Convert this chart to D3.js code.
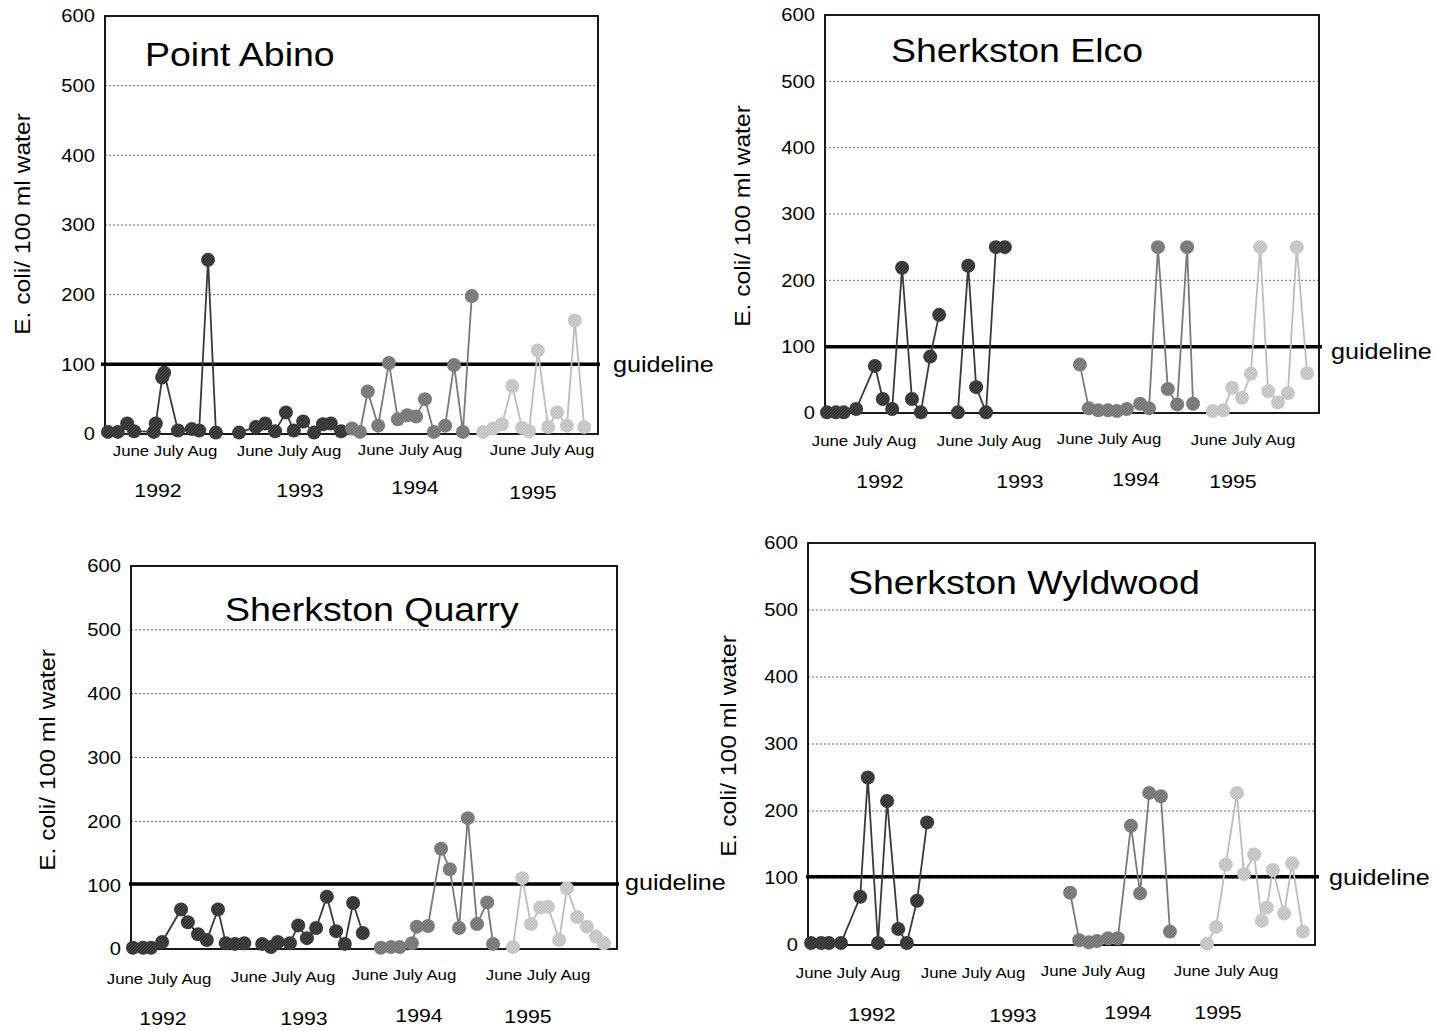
<!DOCTYPE html>
<html><head><meta charset="utf-8">
<script src="https://cdn.jsdelivr.net/npm/d3@7"></script>
<style>body{margin:0;background:#fff} svg{display:block}</style>
</head><body><svg id="c" width="1440" height="1031"></svg>
<script>
// ---------- data ----------
const yTicks = [0, 100, 200, 300, 400, 500, 600];
const years = ["1992", "1993", "1994", "1995"];
const monthLabel = "June July Aug";
const guideLabel = "guideline";
const yTitle = "E. coli/ 100 ml water";
const siteNames = ["Point Abino", "Sherkston Elco", "Sherkston Quarry", "Sherkston Wyldwood"];
const guidelineValues = [100, 100, 102, 102];

// [sampling position along axis (0-100), E. coli / 100 ml]
const abino1992 = [[0.6,3],[2.6,3],[4.5,15],[5.9,4],[9.9,3],[10.3,15],[11.6,81],[12.0,88],[14.8,5],[17.6,7],[19.1,5],[20.9,250],[22.5,2]];
const abino1993 = [[27.2,2],[30.6,10],[32.5,15],[34.5,4],[36.7,31],[38.3,5],[40.2,18],[42.4,2],[44.2,14],[45.8,15],[47.9,4]];
const abino1994 = [[50.1,8],[51.7,3],[53.3,61],[55.4,12],[57.6,102],[59.4,21],[61.3,27],[63.1,25],[64.9,50],[66.7,3],[69.0,12],[70.8,99],[72.6,3],[74.4,198]];
const abino1995 = [[76.7,3],[78.7,8],[80.5,14],[82.6,69],[84.6,9],[86.0,4],[87.8,120],[89.9,10],[91.7,31],[93.7,12],[95.3,163],[97.2,10]];

const elco1992 = [[0.4,1],[2.2,1],[3.8,1],[6.3,6],[10.1,71],[11.7,21],[13.6,6],[15.6,219],[17.6,21],[19.4,1],[21.3,85],[23.1,148]];
const elco1993 = [[26.9,1],[29.0,222],[30.6,39],[32.6,1],[34.6,250],[36.4,250]];
const elco1994 = [[51.6,73],[53.4,7],[55.3,4],[57.3,4],[59.1,3],[61.1,6],[63.8,14],[65.6,7],[67.4,250],[69.4,36],[71.3,13],[73.3,250],[74.5,14]];
const elco1995 = [[78.5,3],[80.6,4],[82.4,38],[84.4,23],[86.2,59],[88.1,250],[89.7,33],[91.7,16],[93.7,30],[95.5,250],[97.6,60]];

const quarry1992 = [[0.4,2],[2.5,2],[4.1,2],[6.4,11],[10.3,62],[11.7,42],[13.8,23],[15.6,14],[17.9,62],[19.5,9],[21.4,8],[23.3,9]];
const quarry1993 = [[27.0,8],[28.8,3],[30.2,11],[32.7,9],[34.4,37],[36.2,17],[38.1,33],[40.3,82],[42.2,28],[44.0,8],[45.7,72],[47.7,25]];
const quarry1994 = [[51.4,2],[53.5,3],[55.3,3],[57.8,9],[58.8,35],[61.1,36],[63.8,157],[65.6,125],[67.5,33],[69.3,205],[71.2,39],[73.3,73],[74.5,8]];
const quarry1995 = [[78.6,3],[80.5,111],[82.3,39],[84.2,65],[85.8,66],[88.1,14],[89.7,95],[91.8,50],[93.8,35],[95.7,19],[97.3,9]];

const wyld1992 = [[0.6,3],[2.6,3],[4.1,3],[6.5,3],[10.3,72],[11.8,250],[13.8,3],[15.6,215],[17.8,24],[19.5,3],[21.5,66],[23.5,183]];
const wyld1993 = [];
const wyld1994 = [[51.7,78],[53.5,7],[55.4,4],[57.0,6],[59.2,10],[61.1,10],[63.7,178],[65.5,77],[67.3,227],[69.6,222],[71.4,20]];
const wyld1995 = [[78.7,2],[80.5,27],[82.4,120],[84.6,227],[86.0,106],[88.0,135],[89.5,36],[90.5,56],[91.7,112],[93.9,47],[95.5,122],[97.6,20]];

const panelSeries = [
  [abino1992, abino1993, abino1994, abino1995],
  [elco1992, elco1993, elco1994, elco1995],
  [quarry1992, quarry1993, quarry1994, quarry1995],
  [wyld1992, wyld1993, wyld1994, wyld1995]
];

// ---------- layout / style ----------
const layouts = [
  {frame:[105,16,598,434], title:[145,65], months:[[165,451],[289,451],[410,450],[542,450]],
   yrs:[[158,490],[300,490],[415,487],[533,492]], guide:[613,364], ytitle:[22,224], gl:[101,600]},
  {frame:[825,15,1319,413], title:[891,61], months:[[864,441],[989,441],[1109,439],[1243,440]],
   yrs:[[880,481],[1020,481],[1136,479],[1233,481]], guide:[1331,351], ytitle:[742,216], gl:[824,1322]},
  {frame:[131,566,617,949], title:[225,620], months:[[159,979],[283,977],[404,975],[538,975]],
   yrs:[[163,1018],[304,1018],[419,1015],[528,1016]], guide:[625,882], ytitle:[47,760], gl:[129,619]},
  {frame:[808,543,1315,945], title:[848,593], months:[[848,973],[973,973],[1093,971],[1226,971]],
   yrs:[[872,1014],[1013,1015],[1128,1012],[1218,1012]], guide:[1329,877], ytitle:[728,746], gl:[806,1319]}
];
const seriesStyle = [
  {fill:"url(#hDark)", line:"#3a3a3a"},
  {fill:"url(#hDark)", line:"#3a3a3a"},
  {fill:"url(#hMid)", line:"#7a7a7a"},
  {fill:"url(#hLight)", line:"#bdbdbd"}
];
const FONT = "'Liberation Sans', Arial, Helvetica, sans-serif";
const SX = 1.12;

const svg = d3.select("#c");
const defs = svg.append("defs");
function hatch(id, base, stripe) {
  const p = defs.append("pattern").attr("id", id).attr("patternUnits", "userSpaceOnUse")
    .attr("width", 3).attr("height", 3);
  p.append("rect").attr("width", 3).attr("height", 3).attr("fill", base);
  p.append("path").attr("d", "M-1,1 L1,-1 M0,3 L3,0 M2,4 L4,2").attr("stroke", stripe).attr("stroke-width", 0.7);
}
hatch("hDark", "#333", "#555");
hatch("hMid", "#767676", "#8e8e8e");
hatch("hLight", "#c2c2c2", "#d8d8d8");

function txt(g, x, y, s, size, anchor, opts = {}) {
  return g.append("text")
    .attr("transform", `translate(${x},${y})` + (opts.rotate ? " rotate(-90)" : "") + ` scale(${SX},1)`)
    .attr("text-anchor", anchor).attr("dy", "0.36em")
    .attr("font-family", FONT).attr("font-size", size).attr("fill", "#000")
    .text(s);
}

layouts.forEach((L, i) => {
  const [x0, y0, x1, y1] = L.frame;
  const g = svg.append("g");
  const x = d3.scaleLinear().domain([0, 100]).range([x0, x1]);
  const y = d3.scaleLinear().domain([0, 600]).range([y1, y0]);

  // gridlines
  g.selectAll("line.grid").data(yTicks.filter(v => v > 0 && v < 600)).join("line")
    .attr("x1", x0).attr("x2", x1).attr("y1", d => y(d)).attr("y2", d => y(d))
    .attr("stroke", "#444").attr("stroke-width", 0.8).attr("stroke-dasharray", "2,2");

  // frame
  g.append("rect").attr("x", x0).attr("y", y0).attr("width", x1 - x0).attr("height", y1 - y0)
    .attr("fill", "none").attr("stroke", "#000").attr("stroke-width", 1.8);

  // y tick labels
  yTicks.forEach(v => txt(g, x0 - 10, y(v), String(v), 18, "end"));

  // guideline
  g.append("line").attr("x1", L.gl[0]).attr("x2", L.gl[1])
    .attr("y1", y(guidelineValues[i])).attr("y2", y(guidelineValues[i]))
    .attr("stroke", "#000").attr("stroke-width", 3.5);
  txt(g, L.guide[0], L.guide[1], guideLabel, 22.5, "start");

  // series
  const line = d3.line().x(d => x(d[0])).y(d => y(d[1]));
  panelSeries[i].forEach((data, k) => {
    if (!data.length) return;
    g.append("path").datum(data).attr("d", line).attr("fill", "none")
      .attr("stroke", seriesStyle[k].line).attr("stroke-width", 1.8);
  });
  panelSeries[i].forEach((data, k) => {
    g.selectAll(null).data(data).join("circle")
      .attr("cx", d => x(d[0])).attr("cy", d => y(d[1])).attr("r", 7)
      .attr("fill", seriesStyle[k].fill);
  });

  // labels
  txt(g, L.title[0], L.title[1] - 11, siteNames[i], 33.5, "start");
  L.months.forEach(m => txt(g, m[0], m[1], monthLabel, 15, "middle"));
  L.yrs.forEach((p, k) => txt(g, p[0], p[1], years[k], 19, "middle"));
  txt(g, L.ytitle[0], L.ytitle[1], yTitle, 22, "middle", {rotate: true});
});
</script>
</body></html>
